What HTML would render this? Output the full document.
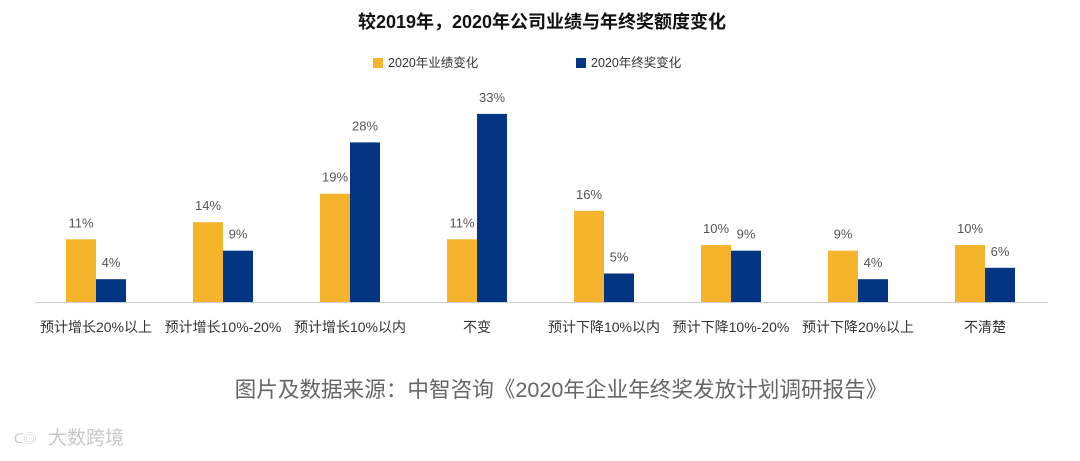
<!DOCTYPE html>
<html><head><meta charset="utf-8"><style>
body{margin:0;width:1080px;height:456px;background:#fff;overflow:hidden;font-family:"Liberation Sans","Noto Sans CJK SC",sans-serif}
</style></head><body>
<svg width="1080" height="456" id="chart" style="font-family:'Liberation Sans','Noto Sans CJK SC',sans-serif">
<text x="542" y="28" text-anchor="middle" font-size="18" font-weight="bold" fill="#111">较2019年，2020年公司业绩与年终奖额度变化</text>
<g>
<rect x="373" y="58" width="10" height="10" fill="#F6B42D"/>
<text x="388" y="67" font-size="12.5" fill="#333">2020年业绩变化</text>
<rect x="576" y="58" width="10" height="10" fill="#043582"/>
<text x="591" y="67" font-size="12.5" fill="#333">2020年终奖变化</text>
</g>
<g id="bars"></g>
<line x1="35" y1="302.5" x2="1048" y2="302.5" stroke="#ccc" stroke-width="1"/>
<text x="561" y="397" text-anchor="middle" font-size="21.6" fill="#666">图片及数据来源：中智咨询《2020年企业年终奖发放计划调研报告》</text>
<text x="14" y="443" font-size="13" fill="#c8c8c8">ᑕ◎</text>
<text x="48" y="444" font-size="19" fill="#c8c8c8">大数跨境</text>
</svg>
<script>
const categories=["预计增长20%以上","预计增长10%-20%","预计增长10%以内","不变","预计下降10%以内","预计下降10%-20%","预计下降20%以上","不清楚"];
const performance=[11,14,19,11,16,10,9,10];
const bonus=[4,9,28,33,5,9,4,6];
const NS="http://www.w3.org/2000/svg";
const g=document.getElementById("bars");
const base=302, pxPer=5.7, x0=96, step=127, bw=30;
function yScale(v){return base-v*pxPer;}
function xCenter(i){return x0+i*step;}
function mk(tag,attrs){const e=document.createElementNS(NS,tag);for(const k in attrs)e.setAttribute(k,attrs[k]);return e;}
categories.forEach((c,i)=>{
  const cx=xCenter(i);
  [[performance,"#F6B42D",-bw,"performance"],[bonus,"#043582",0,"bonus"]].forEach(([arr,col,off,nm])=>{
    const v=arr[i];const y=yScale(v);
    const r=mk("rect",{x:cx+off,y:y,width:bw,height:base-y,fill:col});
    
    
    g.appendChild(r);
    const t=mk("text",{x:cx+off+bw/2,y:y-12,"text-anchor":"middle","font-size":"13",fill:"#555"});
    t.textContent=v+"%";
    
    
    g.appendChild(t);
  });
  const l=mk("text",{x:cx,y:332,"text-anchor":"middle","font-size":"14",fill:"#333"});
  l.textContent=c;
  
  
  g.appendChild(l);
});
</script>
</body></html>
